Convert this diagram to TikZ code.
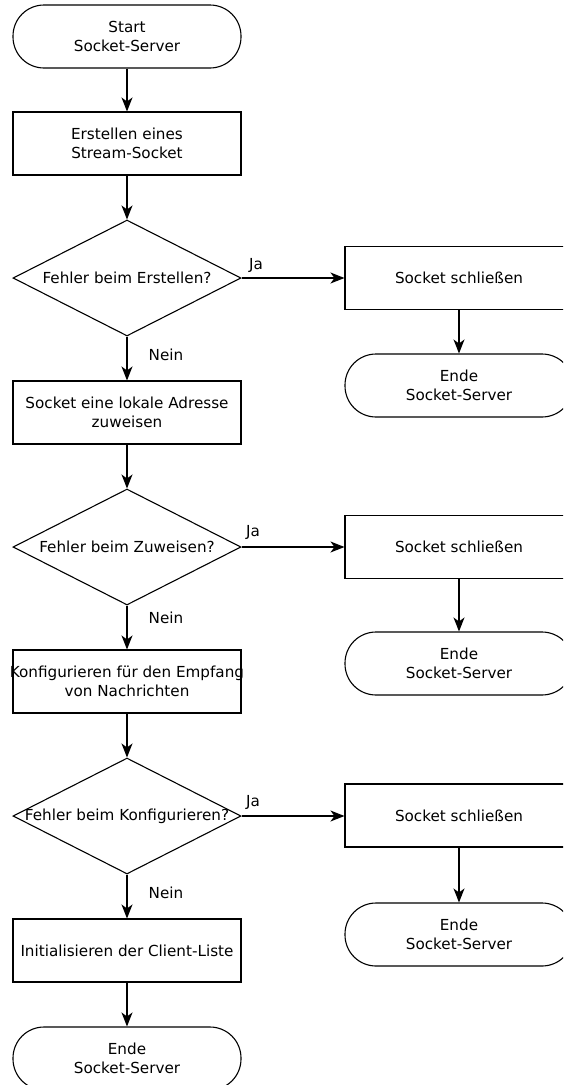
\documentclass[tikz,border=0pt]{standalone}
\usepackage{fontspec}
\setmainfont{DejaVu Sans}
\usetikzlibrary{shapes.geometric,arrows.meta}

\tikzset{
  txt/.style={font=\fontsize{15.2}{19}\selectfont},
  base/.style={draw, line width=1.1pt, inner sep=0pt, align=center, txt},
  procbox/.style={base, rectangle, minimum width=228pt, minimum height=63pt},
  termbox/.style={base, rectangle, rounded corners=31pt,
    minimum width=228pt, minimum height=63pt},
  decbox/.style={base, diamond, minimum width=228pt, minimum height=116pt},
  inner/.style={inner sep=0pt, align=center, txt},
  lbl/.style={inner sep=0pt, txt},
  flow/.style={line width=1.1pt,
    -{Stealth[length=14pt,width=11pt,inset=4pt]}}
}

\begin{document}
\begin{tikzpicture}[x=1pt,y=-1pt]
\useasboundingbox (0,0) rectangle (563,1085);
\clip (0,0) rectangle (563,1085);

% main column
\node[termbox] (start) at (127,36.5) {Start\\Socket-Server};
\node[procbox] (create) at (127,143.5) {Erstellen eines\\Stream-Socket};
\node[decbox] (d1) at (127,278) {};
\node[inner] at (d1.center) {Fehler beim Erstellen?};
\node[procbox] (bind) at (127,412.5) {Socket eine lokale Adresse\\zuweisen};
\node[decbox] (d2) at (127,547) {};
\node[inner] at (d2.center) {Fehler beim Zuweisen?};
\node[procbox] (listen) at (127,681.5) {};
\node[inner] at (listen.center) {Konfigurieren für den Empfang\\von Nachrichten};
\node[decbox] (d3) at (127,816) {};
\node[inner] at (d3.center) {Fehler beim Konfigurieren?};
\node[procbox] (init) at (127,950.5) {Initialisieren der Client-Liste};
\node[termbox] (end) at (127,1058.5) {Ende\\Socket-Server};

% error branches
\node[procbox] (close1) at (459,278) {Socket schließen};
\node[termbox] (end1) at (459,385.5) {Ende\\Socket-Server};
\node[procbox] (close2) at (459,547) {Socket schließen};
\node[termbox] (end2) at (459,663.5) {Ende\\Socket-Server};
\node[procbox] (close3) at (459,815.5) {Socket schließen};
\node[termbox] (end3) at (459,934.5) {Ende\\Socket-Server};

% main flow
\draw[flow] (start) -- (create);
\draw[flow] (create) -- (d1);
\draw[flow] (d1) -- (bind);
\draw[flow] (bind) -- (d2);
\draw[flow] (d2) -- (listen);
\draw[flow] (listen) -- (d3);
\draw[flow] (d3) -- (init);
\draw[flow] (init) -- (end);

% branches
\draw[flow] (d1.east) -- (close1.west);
\draw[flow] (close1) -- (end1);
\draw[flow] (d2.east) -- (close2.west);
\draw[flow] (close2) -- (end2);
\draw[flow] (d3.east) -- (close3.west |- d3.east);
\draw[flow] (close3) -- (end3);

% branch labels
\node[lbl] at (256,265) {Ja};
\node[lbl] at (253,532) {Ja};
\node[lbl] at (253,802) {Ja};
\node[lbl] at (166,355) {Nein};
\node[lbl] at (166,618) {Nein};
\node[lbl] at (166,893) {Nein};
\end{tikzpicture}
\end{document}
